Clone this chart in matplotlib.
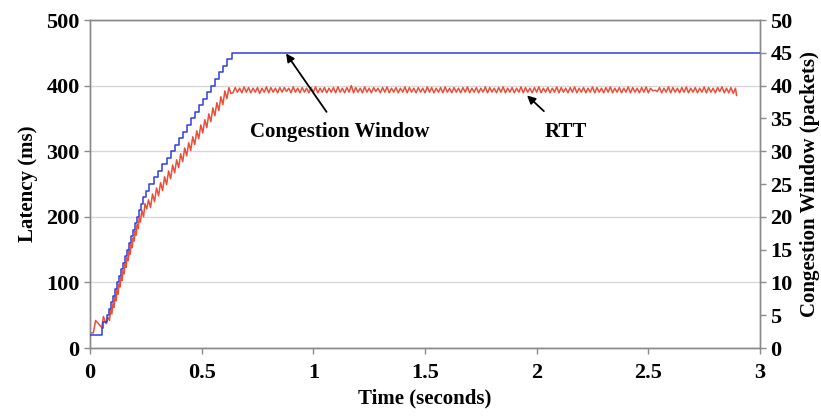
import numpy as np
import matplotlib
matplotlib.use("Agg")
import matplotlib.pyplot as plt

# ---------------- data ----------------
# Congestion window (packets): step times (s) and window values
cwnd_t = [0.0, 0.053, 0.057, 0.077, 0.086, 0.095, 0.104, 0.112, 0.121, 0.130,
          0.139, 0.148, 0.156, 0.165, 0.174, 0.183, 0.192, 0.200, 0.209, 0.218,
          0.227, 0.238, 0.249, 0.262, 0.288, 0.306, 0.324, 0.343, 0.361, 0.379,
          0.397, 0.415, 0.433, 0.452, 0.470, 0.488, 0.506, 0.524, 0.543, 0.561,
          0.579, 0.597, 0.615, 0.634, 3.0]
cwnd_v = [2, 3, 4, 5, 6, 7, 8, 9, 10, 11,
          12, 13, 14, 15, 16, 17, 18, 19, 20, 21,
          22, 23, 24, 25, 26, 27, 28, 29, 30, 31,
          32, 33, 34, 35, 36, 37, 38, 39, 40, 41,
          42, 43, 44, 45, 45]

# RTT (ms) during start-up: explicit (time, value) points
rtt_ramp_t = [0.000, 0.015, 0.025, 0.053, 0.060, 0.072, 0.080, 0.087, 0.093, 0.098,
              0.103, 0.108, 0.112, 0.117, 0.121, 0.126, 0.130, 0.135, 0.139, 0.144,
              0.148, 0.153, 0.157, 0.162, 0.166, 0.171, 0.175, 0.180, 0.184, 0.189,
              0.193, 0.198, 0.202, 0.207, 0.211, 0.216, 0.220, 0.226, 0.232, 0.240,
              0.246, 0.254,
              0.262, 0.271, 0.280, 0.289, 0.298, 0.307, 0.316, 0.325, 0.334, 0.343,
              0.352, 0.361, 0.370, 0.379, 0.388, 0.397, 0.406, 0.415, 0.424, 0.433,
              0.442, 0.451, 0.460, 0.469, 0.478, 0.487, 0.496, 0.505, 0.514, 0.523,
              0.532, 0.541, 0.550, 0.559, 0.568, 0.577, 0.586, 0.595, 0.604, 0.613,
              0.622, 0.631]
rtt_ramp_v = [23, 23, 42, 31, 48, 37, 47, 42, 58, 52,
              68, 62, 78, 72, 88, 82, 98, 93, 108, 103,
              118, 113, 128, 123, 138, 133, 148, 143, 158, 153,
              168, 163, 178, 172, 188, 182, 198, 192, 210, 200,
              220, 212,
              226, 214, 235, 223, 244, 232, 252, 240, 261, 249,
              270, 258, 279, 267, 287, 275, 296, 284, 305, 293,
              313, 301, 322, 310, 331, 319, 340, 328, 348, 336,
              357, 345, 366, 354, 374, 362, 383, 371, 392, 380,
              397, 388]

# RTT (ms) in steady state, sampled every 10 ms starting at 0.64 s
rtt_steady_start = 0.64
rtt_steady_dt = 0.01
rtt_steady = [
    389, 397, 390, 396, 389, 398, 390, 397, 389, 396, 390, 397, 388, 396, 390, 398, 389, 397, 390, 396,
    389, 397, 390, 397, 391, 396, 389, 398, 390, 396, 389, 397, 390, 396, 389, 397, 390, 398, 389, 396,
    390, 397, 389, 396, 390, 397, 389, 398, 390, 396, 389, 397, 390, 400, 389, 397, 390, 396, 389, 398,
    390, 396, 389, 397, 391, 396, 389, 397, 390, 398, 389, 396, 390, 397, 389, 396, 390, 398, 389, 397,
    390, 396, 389, 397, 390, 396, 389, 398, 390, 397, 389, 396, 390, 397, 389, 398, 390, 396, 389, 397,
    390, 396, 389, 397, 390, 398, 389, 396, 390, 397, 389, 396, 390, 398, 389, 397, 390, 396, 389, 397,
    390, 398, 389, 396, 390, 397, 389, 396, 390, 398, 389, 397, 390, 396, 389, 397, 390, 398, 389, 396,
    390, 397, 389, 396, 390, 398, 389, 397, 390, 396, 389, 397, 390, 398, 389, 396, 390, 397, 389, 396,
    390, 398, 389, 397, 390, 396, 389, 397, 390, 398, 389, 396, 390, 397, 389, 396, 390, 398, 389, 397,
    390, 396, 389, 397, 390, 398, 389, 396, 392, 393, 391, 397, 389, 396, 390, 398, 389, 397, 390, 396,
    389, 397, 390, 398, 389, 396, 390, 397, 389, 396, 390, 398, 389, 397, 390, 396, 389, 397, 391, 398,
    389, 396, 389, 397, 388, 396,
]
rtt_end_t = [2.895]
rtt_end_v = [385]

xticks = [0, 0.5, 1, 1.5, 2, 2.5, 3]
xticklabels = ["0", "0.5", "1", "1.5", "2", "2.5", "3"]
lat_ticks = [0, 100, 200, 300, 400, 500]
cw_ticks = [0, 5, 10, 15, 20, 25, 30, 35, 40, 45, 50]

# ---------------- plot ----------------
plt.rcParams['font.family'] = ['Liberation Serif', 'DejaVu Serif']
plt.rcParams['font.weight'] = 'bold'

fig = plt.figure(figsize=(8.21, 4.18), dpi=100)
ax = fig.add_axes([90 / 821, 70 / 418, 670 / 821, 328 / 418])
ax2 = ax.twinx()

steady_t = rtt_steady_start + rtt_steady_dt * np.arange(len(rtt_steady))
rtt_t = np.concatenate([rtt_ramp_t, steady_t, rtt_end_t])
rtt_v = np.concatenate([rtt_ramp_v, rtt_steady, rtt_end_v])

blue = '#2f3fd6'
red = '#e8503a'

ax.plot(rtt_t, rtt_v, color=red, lw=1.1, zorder=3)
ax2.plot(cwnd_t, cwnd_v, color=blue, lw=1.1, drawstyle='steps-post', zorder=3)

ax.set_xlim(0, 3)
ax.set_ylim(0, 500)
ax2.set_ylim(0, 50)

ax.set_xticks(xticks)
ax.set_xticklabels(xticklabels)
ax.set_yticks(lat_ticks)
ax2.set_yticks(cw_ticks)

for a in (ax, ax2):
    for s in a.spines.values():
        s.set_color('#8a8a8a')
        s.set_linewidth(1.0)
    a.tick_params(labelsize=16, colors='#8a8a8a', labelcolor='black',
                  length=4, width=1.0, direction='out')
ax.tick_params(axis='x', pad=7)

ax.yaxis.grid(True, color='#d8d8d8', lw=1.0)
ax.set_axisbelow(True)

ax.set_ylabel('Latency (ms)', fontsize=15, fontweight='bold', labelpad=6)
ax2.set_ylabel('Congestion Window (packets)', fontsize=15, fontweight='bold', labelpad=5)
ax.set_xlabel('Time (seconds)', fontsize=15, fontweight='bold', labelpad=4)

ax.annotate('Congestion Window', xy=(0.878, 449), xytext=(1.12, 330),
            fontsize=15, fontweight='bold', ha='center', va='center',
            arrowprops=dict(arrowstyle='-|>', color='black', lw=1.3,
                            mutation_scale=12, shrinkA=6, shrinkB=0), zorder=5)
ax.annotate('RTT', xy=(1.957, 385), xytext=(2.13, 330),
            fontsize=15, fontweight='bold', ha='center', va='center',
            arrowprops=dict(arrowstyle='-|>', color='black', lw=1.3,
                            mutation_scale=12, shrinkA=8, shrinkB=0), zorder=5)

fig.savefig('out.png', dpi=100)
